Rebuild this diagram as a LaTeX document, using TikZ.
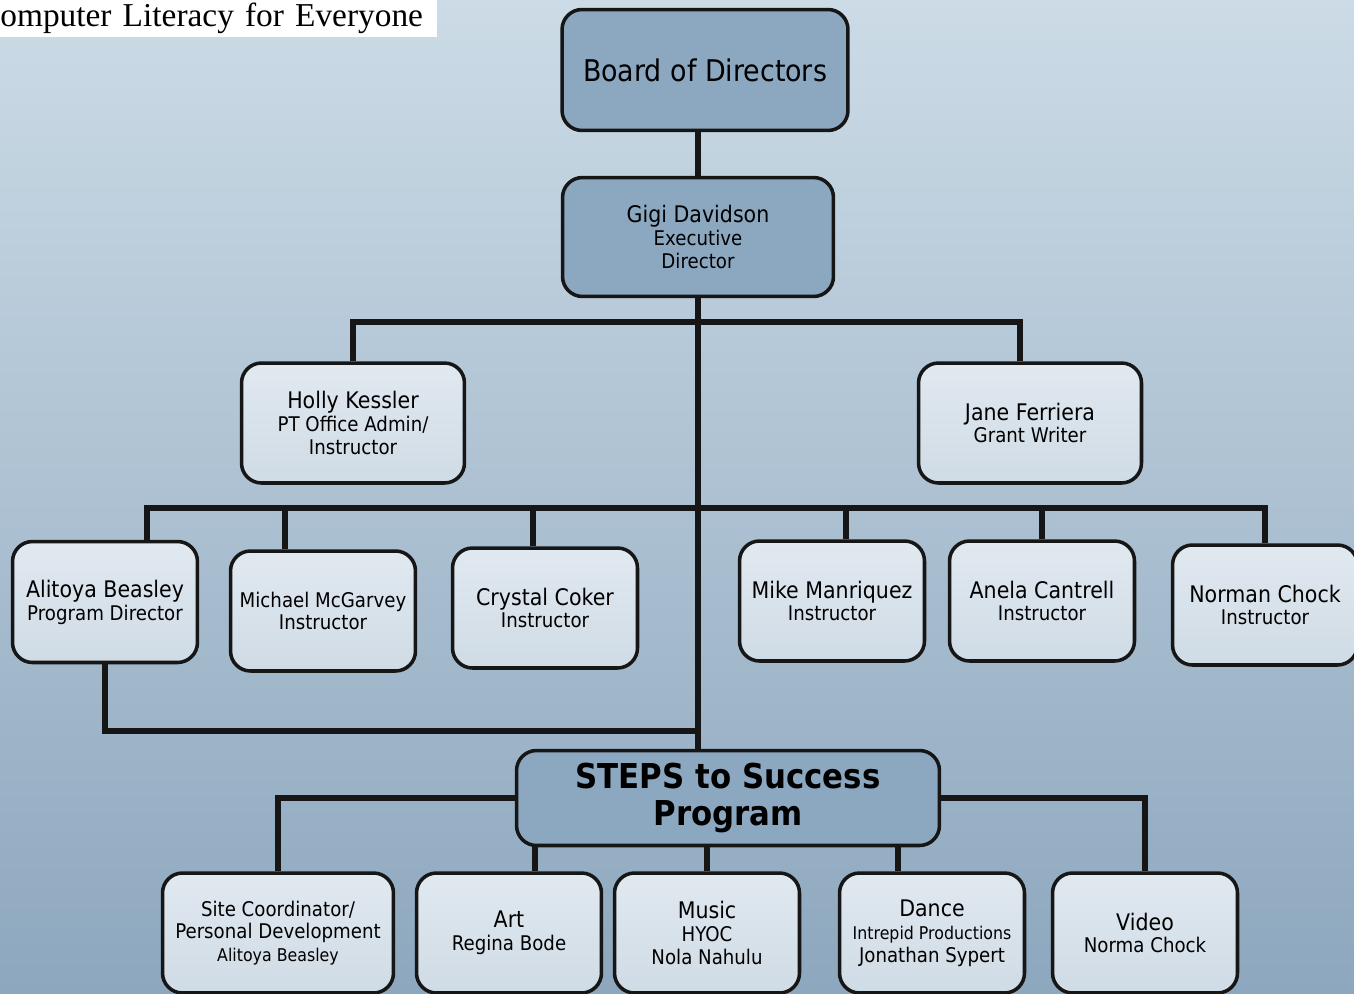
\documentclass[tikz,border=0pt]{standalone}
\usepackage{fontspec}
\setmainfont{DejaVu Sans}[FakeStretch=0.9]
\newfontfamily\bannerfont{Liberation Serif}
\usetikzlibrary{positioning}
\definecolor{ink}{HTML}{161616}
\definecolor{skytop}{HTML}{CCDBE6}
\definecolor{skybot}{HTML}{8DA7BE}
\definecolor{steel}{HTML}{8CA8C0}
\definecolor{misttop}{HTML}{E1E9F0}
\definecolor{mistbot}{HTML}{CFDBE5}
\newcommand{\rolesz}{\fontsize{11.5}{13}\selectfont}
\newcommand{\tinysz}{\fontsize{10}{11.5}\selectfont}

\begin{document}
\begin{tikzpicture}[
  x=0.02cm, y=-0.02cm,
  font=\fontsize{13}{13}\selectfont,
  card/.style   = {draw=ink, line width=2pt, rounded corners=0.4cm, align=center,
                   inner sep=2pt},
  lead/.style   = {card, fill=steel},
  staff/.style  = {card, top color=misttop, bottom color=mistbot,
                   minimum width=3.7cm, minimum height=2.4cm},
  link/.style   = {draw=ink, line width=3.2pt},
  banner/.style = {fill=white, font=\bannerfont\fontsize{19}{19}\selectfont,
                   text width=8.74cm, inner xsep=0pt, inner ysep=1pt,
                   minimum height=0.74cm, align=left},
]
\useasboundingbox (0,0) rectangle (1354,993);
\shade[top color=skytop, bottom color=skybot] (0,0) rectangle (1354,993);

% ---------- title ----------
\node[banner, anchor=north west] (title) at (0,0) {omputer Literacy for Everyone};

% ---------- top ----------
\node[lead, minimum width=5.72cm, minimum height=2.42cm,
      font=\fontsize{17}{17}\selectfont] (board) at (705,70) {Board of Directors};
\node[lead, minimum width=5.42cm, minimum height=2.38cm] (exec) at (698,237)
  {Gigi Davidson\\\rolesz Executive\\\rolesz Director};

% ---------- office ----------
\node[staff, minimum width=4.46cm] (holly) at (353,423)
  {Holly Kessler\\\rolesz PT Office Admin/\\\rolesz Instructor};
\node[staff, minimum width=4.46cm] (jane) at (1030,423)
  {Jane Ferriera\\\rolesz Grant Writer};

% ---------- instructors ----------
\node[staff, minimum height=2.42cm] (alitoya) at (105,602)
  {Alitoya Beasley\\\rolesz Program Director};
\node[staff, font=\rolesz] (michael) at (323,611) {Michael McGarvey\\Instructor};
\node[staff] (crystal) at (545,608) {Crystal Coker\\\rolesz Instructor};
\node[staff] (mike) at (832,601) {Mike Manriquez\\\rolesz Instructor};
\node[staff] (anela) at (1042,601) {Anela Cantrell\\\rolesz Instructor};
\node[staff] (norman) at (1265,605) {Norman Chock\\\rolesz Instructor};

% ---------- program ----------
\node[lead, minimum width=8.46cm, minimum height=1.9cm,
      font=\fontsize{19.5}{21.5}\selectfont\bfseries] (steps) at (728,798)
  {STEPS to Success\\Program};

\node[staff, minimum width=4.62cm, font=\rolesz] (site) at (278,933)
  {Site Coordinator/\\Personal Development\\\tinysz Alitoya Beasley};
\node[staff] (art) at (509,933) {Art\\\rolesz Regina Bode};
\node[staff] (music) at (707,933) {Music\\\rolesz HYOC\\\rolesz Nola Nahulu};
\node[staff] (dance) at (932,933)
  {Dance\\\tinysz Intrepid Productions\\\rolesz Jonathan Sypert};
\node[staff] (video) at (1145,933) {Video\\\rolesz Norma Chock};

% ---------- junctions ----------
\coordinate (bus1) at (698,322);
\coordinate (bus2) at (698,508);
\coordinate (bus3) at (698,731);

% ---------- links ----------
\draw[link] (board.south -| exec.south) -- (exec.north);
\draw[link] (exec.south) -- (exec.south |- steps.north);
\draw[link] (holly.north) |- (bus1) -| ([xshift=-0.2cm]jane.north);
\draw[link] ([xshift=0.84cm]alitoya.north) |- (bus2);
\draw[link] ([xshift=-0.76cm]michael.north) |- (bus2);
\draw[link] ([xshift=-0.24cm]crystal.north) |- (bus2);
\draw[link] ([xshift=0.28cm]mike.north) |- (bus2);
\draw[link] (anela.north) |- (bus2);
\draw[link] (norman.north) |- (bus2);
\draw[link] (alitoya.south) |- (bus3);
\draw[link] (steps.west) -| (site.north);
\draw[link] (steps.east) -| (video.north);
\draw[link] ([xshift=0.52cm]art.north) -- ([xshift=0.52cm]art.north |- steps.south);
\draw[link] (music.north) -- (music.north |- steps.south);
\draw[link] ([xshift=-0.68cm]dance.north) -- ([xshift=-0.68cm]dance.north |- steps.south);

\end{tikzpicture}
\end{document}
